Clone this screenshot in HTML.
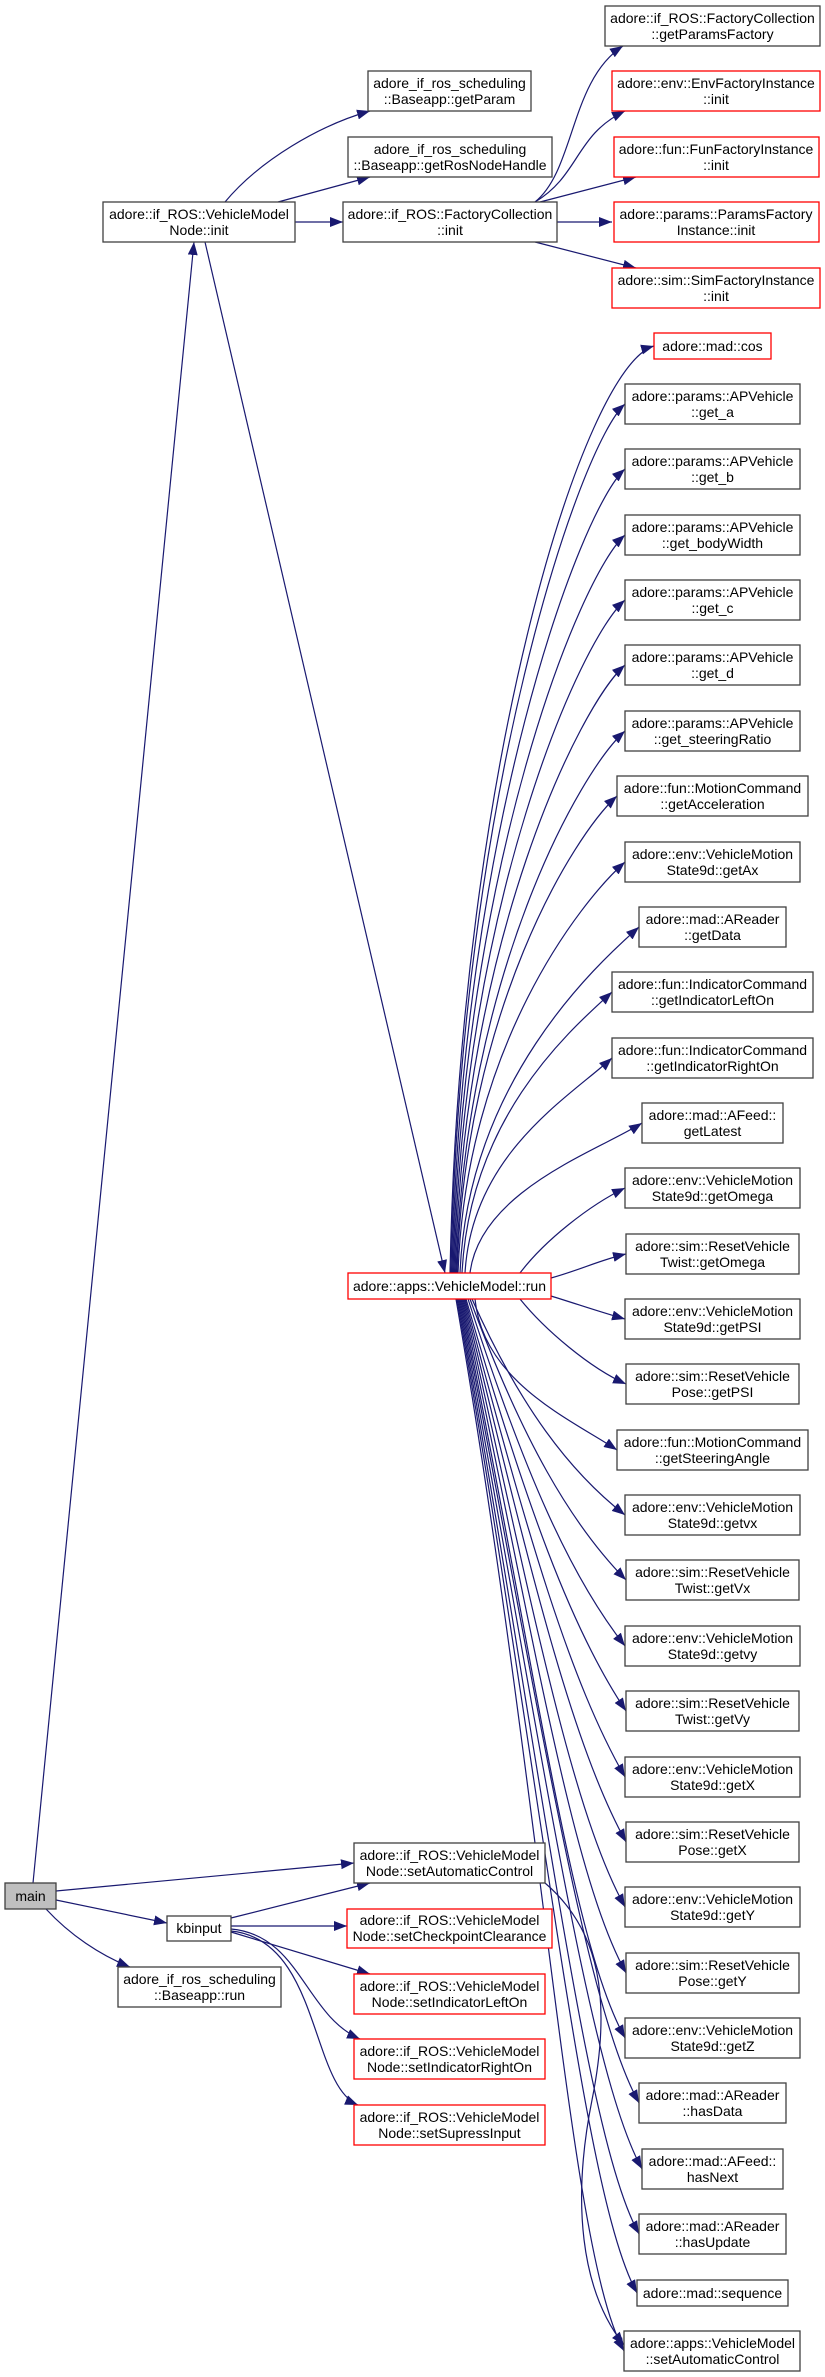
<!DOCTYPE html>
<html><head><meta charset="utf-8"><style>
html,body{margin:0;padding:0;background:#fff;}
svg{display:block;}
text{font-family:"Liberation Sans",Arial,sans-serif;font-size:14px;fill:#000;text-anchor:middle;}
.n{fill:#fff;stroke:#404040;stroke-width:1.3;}
.r{fill:#fff;stroke:#ff0000;stroke-width:1.3;}
.e{fill:none;stroke:#191970;stroke-width:1.2;}
</style></head><body>
<svg width="825" height="2377" viewBox="0 0 825 2377" xmlns="http://www.w3.org/2000/svg">
<defs><marker id="a" markerUnits="userSpaceOnUse" markerWidth="14" markerHeight="10" refX="13" refY="5" orient="auto"><path d="M0,0 L13,5 L0,10 z" fill="#191970"/></marker></defs>

<path class="e" d="M225,202 C260,160 320,125 370,111" marker-end="url(#a)"/>
<path class="e" d="M278,202 L370,177" marker-end="url(#a)"/>
<path class="e" d="M295,222 L343,222" marker-end="url(#a)"/>
<path class="e" d="M535,202 C575,170 570,80 623,46" marker-end="url(#a)"/>
<path class="e" d="M535,202 C580,175 575,135 625,111" marker-end="url(#a)"/>
<path class="e" d="M540,202 L636,177" marker-end="url(#a)"/>
<path class="e" d="M557,222 L612,222" marker-end="url(#a)"/>
<path class="e" d="M535,242 L636,268" marker-end="url(#a)"/>
<path class="e" d="M205,242 L445,1273" marker-end="url(#a)"/>
<path class="e" d="M33,1883 L194,242" marker-end="url(#a)"/>

<g>
<path class="e" marker-end="url(#a)" d="M450,1273 C460,763 584,366 654,346"/>
<path class="e" marker-end="url(#a)" d="M451,1273 C460,795 580,444 625,404"/>
<path class="e" marker-end="url(#a)" d="M452,1273 C461,831 580,509 625,469"/>
<path class="e" marker-end="url(#a)" d="M453,1273 C462,867 580,575 625,535"/>
<path class="e" marker-end="url(#a)" d="M454,1273 C463,903 580,640 625,600"/>
<path class="e" marker-end="url(#a)" d="M455,1273 C464,939 580,705 625,665"/>
<path class="e" marker-end="url(#a)" d="M456,1273 C465,975 580,771 625,731"/>
<path class="e" marker-end="url(#a)" d="M457,1273 C465,1011 573,836 617,796"/>
<path class="e" marker-end="url(#a)" d="M458,1273 C466,1047 580,902 625,862"/>
<path class="e" marker-end="url(#a)" d="M460,1273 C468,1083 594,967 639,927"/>
<path class="e" marker-end="url(#a)" d="M462,1273 C470,1118 568,1032 612,992"/>
<path class="e" marker-end="url(#a)" d="M465,1273 C472,1154 568,1098 612,1058"/>
<path class="e" marker-end="url(#a)" d="M470,1273 C480,1190 600,1150 642,1123"/>
<path class="e" marker-end="url(#a)" d="M520,1273 C545,1240 590,1205 625,1188"/>
<path class="e" marker-end="url(#a)" d="M551,1278 C580,1270 600,1260 626,1254"/>
<path class="e" marker-end="url(#a)" d="M551,1296 C580,1305 600,1312 625,1319"/>
<path class="e" marker-end="url(#a)" d="M520,1299 C545,1330 590,1368 626,1384"/>
<path class="e" marker-end="url(#a)" d="M475,1299 C483,1382 572,1420 617,1450"/>
<path class="e" marker-end="url(#a)" d="M472,1299 C520,1407 570,1472 625,1515"/>
<path class="e" marker-end="url(#a)" d="M470,1299 C522,1440 571,1524 626,1580"/>
<path class="e" marker-end="url(#a)" d="M468,1299 C524,1472 570,1576 625,1646"/>
<path class="e" marker-end="url(#a)" d="M466,1299 C526,1505 571,1629 626,1711"/>
<path class="e" marker-end="url(#a)" d="M465,1299 C528,1538 570,1681 625,1777"/>
<path class="e" marker-end="url(#a)" d="M464,1299 C530,1570 571,1742 626,1842"/>
<path class="e" marker-end="url(#a)" d="M463,1299 C532,1603 570,1807 625,1907"/>
<path class="e" marker-end="url(#a)" d="M462,1299 C534,1636 571,1873 626,1973"/>
<path class="e" marker-end="url(#a)" d="M461,1299 C536,1668 570,1938 625,2038"/>
<path class="e" marker-end="url(#a)" d="M460,1299 C538,1701 584,2003 639,2103"/>
<path class="e" marker-end="url(#a)" d="M459,1299 C540,1734 587,2069 642,2169"/>
<path class="e" marker-end="url(#a)" d="M458,1299 C542,1766 584,2134 639,2234"/>
<path class="e" marker-end="url(#a)" d="M457,1299 C544,1796 582,2193 637,2293"/>
<path class="e" marker-end="url(#a)" d="M456,1299 C546,1825 569,2251 624,2351"/>
</g>

<path class="e" marker-end="url(#a)" d="M56,1891 L354,1863"/>
<path class="e" marker-end="url(#a)" d="M56,1900 L167,1923"/>
<path class="e" marker-end="url(#a)" d="M46,1909 C70,1935 100,1955 130,1967"/>
<path class="e" marker-end="url(#a)" d="M231,1918 L370,1883"/>
<path class="e" marker-end="url(#a)" d="M231,1926 L347,1926"/>
<path class="e" marker-end="url(#a)" d="M231,1932 L370,1974"/>
<path class="e" marker-end="url(#a)" d="M231,1929 C300,1935 305,2015 360,2039"/>
<path class="e" marker-end="url(#a)" d="M231,1931 C320,1940 310,2085 358,2105"/>
<path class="e" marker-end="url(#a)" d="M545,1883 C600,1930 612,2000 592,2100 C572,2200 580,2290 624,2345"/>

<rect class="n" x="605" y="6" width="215" height="40"/><text x="712.5" y="23">adore::if_ROS::FactoryCollection</text><text x="712.5" y="39">::getParamsFactory</text>
<rect class="r" x="612" y="71" width="208" height="40"/><text x="716" y="88">adore::env::EnvFactoryInstance</text><text x="716" y="104">::init</text>
<rect class="r" x="614" y="137" width="205" height="40"/><text x="716" y="154">adore::fun::FunFactoryInstance</text><text x="716" y="170">::init</text>
<rect class="r" x="614" y="202" width="205" height="40"/><text x="716" y="219">adore::params::ParamsFactory</text><text x="716" y="235">Instance::init</text>
<rect class="r" x="612" y="268" width="208" height="40"/><text x="716" y="285">adore::sim::SimFactoryInstance</text><text x="716" y="301">::init</text>

<rect class="n" x="368" y="71" width="163" height="40"/><text x="449.5" y="88">adore_if_ros_scheduling</text><text x="449.5" y="104">::Baseapp::getParam</text>
<rect class="n" x="348" y="137" width="204" height="40"/><text x="450" y="154">adore_if_ros_scheduling</text><text x="450" y="170">::Baseapp::getRosNodeHandle</text>
<rect class="n" x="103" y="202" width="192" height="40"/><text x="199" y="219">adore::if_ROS::VehicleModel</text><text x="199" y="235">Node::init</text>
<rect class="n" x="343" y="202" width="214" height="40"/><text x="450" y="219">adore::if_ROS::FactoryCollection</text><text x="450" y="235">::init</text>

<rect class="r" x="348" y="1273" width="203" height="26"/><text x="449.5" y="1291">adore::apps::VehicleModel::run</text>

<rect class="r" x="654" y="333" width="117" height="26"/><text x="712.5" y="351">adore::mad::cos</text>

<rect class="n" x="625" y="384" width="175" height="40"/><text x="712.5" y="401">adore::params::APVehicle</text><text x="712.5" y="417">::get_a</text>
<rect class="n" x="625" y="449" width="175" height="40"/><text x="712.5" y="466">adore::params::APVehicle</text><text x="712.5" y="482">::get_b</text>
<rect class="n" x="625" y="515" width="175" height="40"/><text x="712.5" y="532">adore::params::APVehicle</text><text x="712.5" y="548">::get_bodyWidth</text>
<rect class="n" x="625" y="580" width="175" height="40"/><text x="712.5" y="597">adore::params::APVehicle</text><text x="712.5" y="613">::get_c</text>
<rect class="n" x="625" y="645" width="175" height="40"/><text x="712.5" y="662">adore::params::APVehicle</text><text x="712.5" y="678">::get_d</text>
<rect class="n" x="625" y="711" width="175" height="40"/><text x="712.5" y="728">adore::params::APVehicle</text><text x="712.5" y="744">::get_steeringRatio</text>
<rect class="n" x="617" y="776" width="191" height="40"/><text x="712.5" y="793">adore::fun::MotionCommand</text><text x="712.5" y="809">::getAcceleration</text>
<rect class="n" x="625" y="842" width="175" height="40"/><text x="712.5" y="859">adore::env::VehicleMotion</text><text x="712.5" y="875">State9d::getAx</text>
<rect class="n" x="639" y="907" width="147" height="40"/><text x="712.5" y="924">adore::mad::AReader</text><text x="712.5" y="940">::getData</text>
<rect class="n" x="612" y="972" width="201" height="40"/><text x="712.5" y="989">adore::fun::IndicatorCommand</text><text x="712.5" y="1005">::getIndicatorLeftOn</text>
<rect class="n" x="612" y="1038" width="201" height="40"/><text x="712.5" y="1055">adore::fun::IndicatorCommand</text><text x="712.5" y="1071">::getIndicatorRightOn</text>
<rect class="n" x="642" y="1103" width="141" height="40"/><text x="712.5" y="1120">adore::mad::AFeed::</text><text x="712.5" y="1136">getLatest</text>
<rect class="n" x="625" y="1168" width="175" height="40"/><text x="712.5" y="1185">adore::env::VehicleMotion</text><text x="712.5" y="1201">State9d::getOmega</text>
<rect class="n" x="626" y="1234" width="173" height="40"/><text x="712.5" y="1251">adore::sim::ResetVehicle</text><text x="712.5" y="1267">Twist::getOmega</text>
<rect class="n" x="625" y="1299" width="175" height="40"/><text x="712.5" y="1316">adore::env::VehicleMotion</text><text x="712.5" y="1332">State9d::getPSI</text>
<rect class="n" x="626" y="1364" width="173" height="40"/><text x="712.5" y="1381">adore::sim::ResetVehicle</text><text x="712.5" y="1397">Pose::getPSI</text>
<rect class="n" x="617" y="1430" width="191" height="40"/><text x="712.5" y="1447">adore::fun::MotionCommand</text><text x="712.5" y="1463">::getSteeringAngle</text>
<rect class="n" x="625" y="1495" width="175" height="40"/><text x="712.5" y="1512">adore::env::VehicleMotion</text><text x="712.5" y="1528">State9d::getvx</text>
<rect class="n" x="626" y="1560" width="173" height="40"/><text x="712.5" y="1577">adore::sim::ResetVehicle</text><text x="712.5" y="1593">Twist::getVx</text>
<rect class="n" x="625" y="1626" width="175" height="40"/><text x="712.5" y="1643">adore::env::VehicleMotion</text><text x="712.5" y="1659">State9d::getvy</text>
<rect class="n" x="626" y="1691" width="173" height="40"/><text x="712.5" y="1708">adore::sim::ResetVehicle</text><text x="712.5" y="1724">Twist::getVy</text>
<rect class="n" x="625" y="1757" width="175" height="40"/><text x="712.5" y="1774">adore::env::VehicleMotion</text><text x="712.5" y="1790">State9d::getX</text>
<rect class="n" x="626" y="1822" width="173" height="40"/><text x="712.5" y="1839">adore::sim::ResetVehicle</text><text x="712.5" y="1855">Pose::getX</text>
<rect class="n" x="625" y="1887" width="175" height="40"/><text x="712.5" y="1904">adore::env::VehicleMotion</text><text x="712.5" y="1920">State9d::getY</text>
<rect class="n" x="626" y="1953" width="173" height="40"/><text x="712.5" y="1970">adore::sim::ResetVehicle</text><text x="712.5" y="1986">Pose::getY</text>
<rect class="n" x="625" y="2018" width="175" height="40"/><text x="712.5" y="2035">adore::env::VehicleMotion</text><text x="712.5" y="2051">State9d::getZ</text>
<rect class="n" x="639" y="2083" width="147" height="40"/><text x="712.5" y="2100">adore::mad::AReader</text><text x="712.5" y="2116">::hasData</text>
<rect class="n" x="642" y="2149" width="141" height="40"/><text x="712.5" y="2166">adore::mad::AFeed::</text><text x="712.5" y="2182">hasNext</text>
<rect class="n" x="639" y="2214" width="147" height="40"/><text x="712.5" y="2231">adore::mad::AReader</text><text x="712.5" y="2247">::hasUpdate</text>
<rect class="n" x="637" y="2280" width="151" height="26"/><text x="712.5" y="2298">adore::mad::sequence</text>
<rect class="n" x="624" y="2331" width="176" height="40"/><text x="712.5" y="2348">adore::apps::VehicleModel</text><text x="712.5" y="2364">::setAutomaticControl</text>

<rect x="5" y="1883" width="51" height="26" fill="#bfbfbf" stroke="#404040" stroke-width="1.3"/><text x="30.5" y="1901">main</text>
<rect class="n" x="167" y="1916" width="64" height="25"/><text x="199" y="1933">kbinput</text>
<rect class="n" x="118" y="1967" width="163" height="40"/><text x="199.5" y="1984">adore_if_ros_scheduling</text><text x="199.5" y="2000">::Baseapp::run</text>

<rect class="n" x="354" y="1843" width="191" height="40"/><text x="449.5" y="1860">adore::if_ROS::VehicleModel</text><text x="449.5" y="1876">Node::setAutomaticControl</text>
<rect class="r" x="347" y="1909" width="205" height="39"/><text x="449.5" y="1925">adore::if_ROS::VehicleModel</text><text x="449.5" y="1941">Node::setCheckpointClearance</text>
<rect class="r" x="354" y="1974" width="191" height="40"/><text x="449.5" y="1991">adore::if_ROS::VehicleModel</text><text x="449.5" y="2007">Node::setIndicatorLeftOn</text>
<rect class="r" x="354" y="2039" width="191" height="40"/><text x="449.5" y="2056">adore::if_ROS::VehicleModel</text><text x="449.5" y="2072">Node::setIndicatorRightOn</text>
<rect class="r" x="354" y="2105" width="191" height="40"/><text x="449.5" y="2122">adore::if_ROS::VehicleModel</text><text x="449.5" y="2138">Node::setSupressInput</text>
</svg>
</body></html>
